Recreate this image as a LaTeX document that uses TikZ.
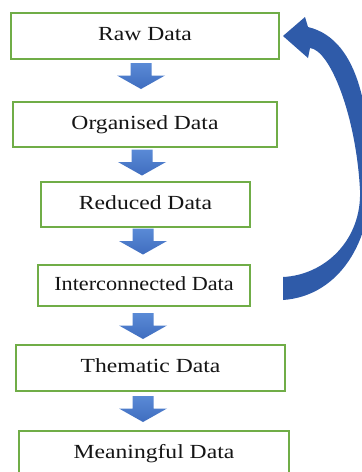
\documentclass[tikz,border=0pt]{standalone}
\usepackage{fontspec}
\setmainfont{Liberation Serif}
\definecolor{boxgreen}{HTML}{70AD47}
\definecolor{arrtop}{HTML}{5A8AD6}
\definecolor{arrbot}{HTML}{3F6DBF}
\definecolor{curveblue}{HTML}{2F5BA9}
\definecolor{txt}{HTML}{151515}
\begin{document}
\begin{tikzpicture}[x=1pt,y=-1pt,
  stagebox/.style={draw=boxgreen, line width=1.6pt, fill=white, inner sep=0pt,
    text height=13.4pt, text depth=4pt, text=txt,
    font=\fontsize{20}{24}\selectfont},
  blockdown/.pic={\shade[top color=arrtop, bottom color=arrbot]
    (-10.5,0) -- (10.5,0) -- (10.5,12.5) -- (24,12.5) -- (0,26) -- (-24,12.5) -- (-10.5,12.5) -- cycle;}]
\useasboundingbox (0,0) rectangle (362,472);
\clip (0,0) rectangle (362,472);
\fill[white] (0,0) rectangle (362,472);

\node[stagebox, minimum width=268pt, minimum height=46pt] (b1) at (145,36) {\scalebox{1.18}[1]{Raw Data}};
\node[stagebox, minimum width=264pt, minimum height=45pt] (b2) at (145,124.5) {\scalebox{1.18}[1]{Organised Data}};
\node[stagebox, minimum width=209pt, minimum height=45pt] (b3) at (145.5,204.5) {\scalebox{1.18}[1]{Reduced Data}};
\node[stagebox, minimum width=212pt, minimum height=41pt] (b4) at (144,285.5) {\scalebox{1.11}[1]{Interconnected Data}};
\node[stagebox, minimum width=269pt, minimum height=46pt] (b5) at (150.5,368) {\scalebox{1.18}[1]{Thematic Data}};
\node[stagebox, minimum width=270pt, minimum height=46pt] (b6) at (154,454) {\scalebox{1.18}[1]{Meaningful Data}};

\pic (a1) at (141,63) {blockdown};
\pic (a2) at (142,149.5) {blockdown};
\pic (a3) at (143,228.5) {blockdown};
\pic (a4) at (143,313) {blockdown};
\pic (a5) at (143,396) {blockdown};

\fill[curveblue] (283,300) .. controls (340,296) and (372,240) .. (370,180)
  .. controls (370,120) and (362,40) .. (308,27) -- (305,17) -- (283,36)
  -- (308,58) -- (310,48) .. controls (330,50) and (356,115) .. (360,190)
  .. controls (362,240) and (325,275) .. (283,277) -- cycle;
\end{tikzpicture}
\end{document}
